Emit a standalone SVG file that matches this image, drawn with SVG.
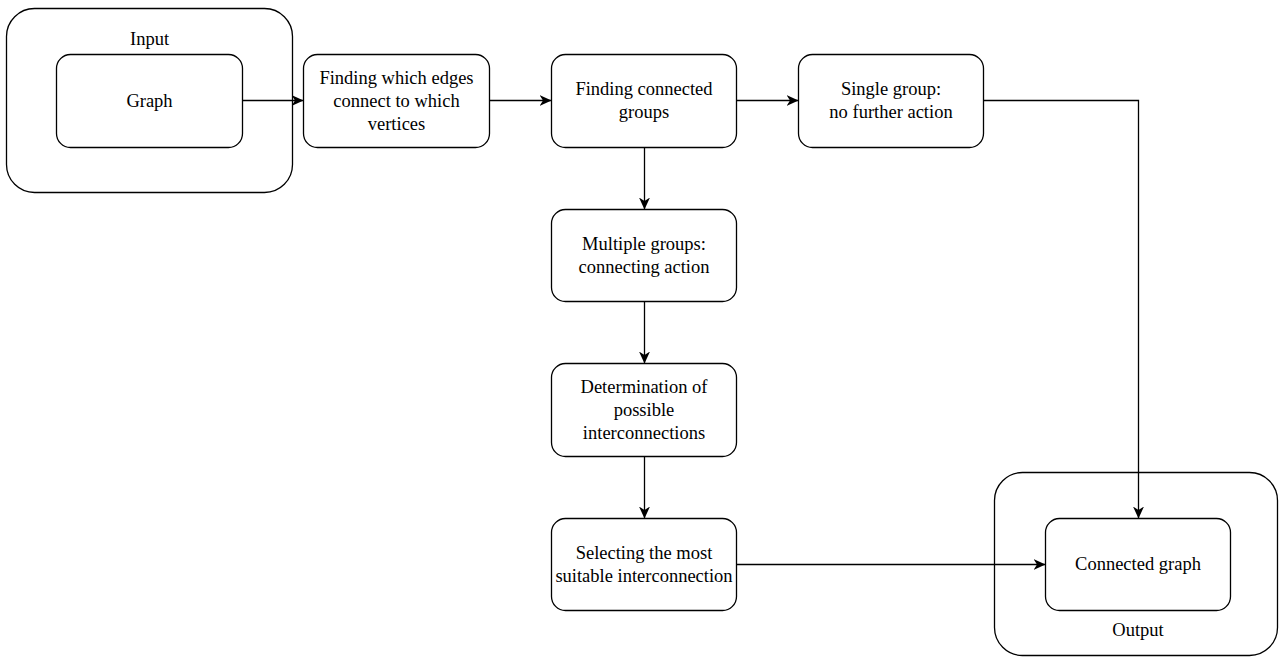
<svg xmlns="http://www.w3.org/2000/svg" width="1280" height="658" viewBox="0 0 1280 658">
  <style>
    .box { fill: #ffffff; stroke: #000000; stroke-width: 1.3; }
    .edge { fill: none; stroke: #000000; stroke-width: 1.3; marker-end: url(#arrow); }
  </style>
  <defs>
    <marker id="arrow" viewBox="0 0 12 11" refX="12" refY="5.5" markerWidth="12" markerHeight="11" markerUnits="userSpaceOnUse" orient="auto">
      <path d="M0,0 L12,5.5 L0,11 L3.5,5.5 Z" fill="#000000"/>
    </marker>
  </defs>

  <rect width="1280" height="658" fill="#ffffff"/>

  <g font-family="Liberation Serif, Times New Roman, serif" font-size="18.5" text-anchor="middle" fill="#000000">
    <!-- Input container -->
    <g id="input">
      <rect class="box" x="6.5" y="8.5" width="286" height="184" rx="28" ry="28"/>
      <text x="149.5" y="45">Input</text>
    </g>

    <g id="graph">
      <rect class="box" x="56.5" y="54.5" width="186" height="93" rx="14" ry="14"/>
      <text x="149.5" y="107">Graph</text>
    </g>

    <g id="edges-to-vertices">
      <rect class="box" x="303.5" y="54.5" width="186" height="93" rx="14" ry="14"/>
      <text x="396.5" y="84">Finding which edges</text>
      <text x="396.5" y="107">connect to which</text>
      <text x="396.5" y="130">vertices</text>
    </g>

    <g id="connected-groups">
      <rect class="box" x="551.5" y="54.5" width="185" height="93" rx="14" ry="14"/>
      <text x="644" y="95">Finding connected</text>
      <text x="644" y="118">groups</text>
    </g>

    <g id="single-group">
      <rect class="box" x="798.5" y="54.5" width="185" height="93" rx="14" ry="14"/>
      <text x="891" y="95">Single group:</text>
      <text x="891" y="118">no further action</text>
    </g>

    <g id="multiple-groups">
      <rect class="box" x="551.5" y="209.5" width="185" height="92" rx="14" ry="14"/>
      <text x="644" y="250">Multiple groups:</text>
      <text x="644" y="273">connecting action</text>
    </g>

    <g id="possible-interconnections">
      <rect class="box" x="551.5" y="363.5" width="185" height="93" rx="14" ry="14"/>
      <text x="644" y="393">Determination of</text>
      <text x="644" y="416">possible</text>
      <text x="644" y="439">interconnections</text>
    </g>

    <g id="select-interconnection">
      <rect class="box" x="551.5" y="518.5" width="185" height="92" rx="14" ry="14"/>
      <text x="644" y="559">Selecting the most</text>
      <text x="644" y="582">suitable interconnection</text>
    </g>

    <!-- Output container -->
    <g id="output">
      <rect class="box" x="994.5" y="472.5" width="283" height="183" rx="28" ry="28"/>
      <text x="1138" y="636">Output</text>
    </g>

    <g id="connected-graph">
      <rect class="box" x="1045.5" y="518.5" width="185" height="92" rx="14" ry="14"/>
      <text x="1138" y="570">Connected graph</text>
    </g>
  </g>

  <!-- Connectors -->
  <g id="connectors">
    <path class="edge" d="M242.5,100.5 L303.5,100.5"/>
    <path class="edge" d="M489.5,100.5 L551.5,100.5"/>
    <path class="edge" d="M736.5,100.5 L798.5,100.5"/>
    <path class="edge" d="M983.5,100.5 L1138.5,100.5 L1138.5,518.5"/>
    <path class="edge" d="M644.5,147.5 L644.5,209.5"/>
    <path class="edge" d="M644.5,301.5 L644.5,363.5"/>
    <path class="edge" d="M644.5,456.5 L644.5,518.5"/>
    <path class="edge" d="M736.5,564.5 L1045.5,564.5"/>
  </g>
</svg>
